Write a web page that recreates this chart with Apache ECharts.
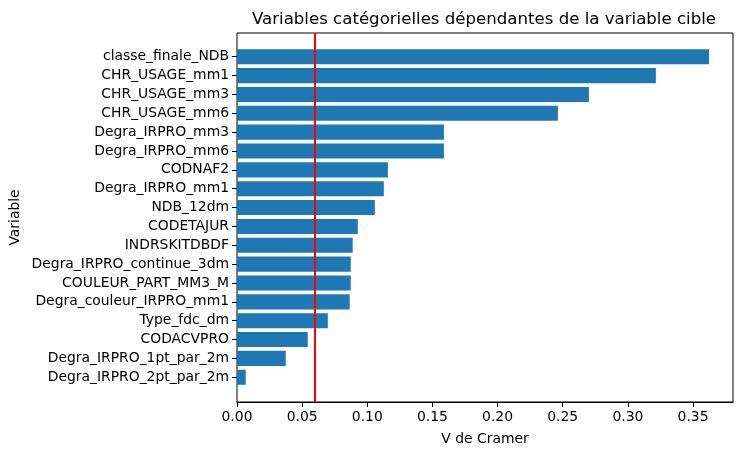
<!DOCTYPE html>
<html>
<head>
<meta charset="utf-8">
<script src="https://cdn.jsdelivr.net/npm/echarts@6/dist/echarts.min.js"></script>
<style>
  html, body { margin: 0; padding: 0; background: #fff; }
  #main { width: 742px; height: 455px; }
</style>
</head>
<body>
<div id="main"></div>
<script>
// top to bottom, as drawn
var variables = [
  'classe_finale_NDB', 'CHR_USAGE_mm1', 'CHR_USAGE_mm3', 'CHR_USAGE_mm6',
  'Degra_IRPRO_mm3', 'Degra_IRPRO_mm6', 'CODNAF2', 'Degra_IRPRO_mm1',
  'NDB_12dm', 'CODETAJUR', 'INDRSKITDBDF', 'Degra_IRPRO_continue_3dm',
  'COULEUR_PART_MM3_M', 'Degra_couleur_IRPRO_mm1', 'Type_fdc_dm', 'CODACVPRO',
  'Degra_IRPRO_1pt_par_2m', 'Degra_IRPRO_2pt_par_2m'
];
var cramerV = [
  0.3623, 0.3215, 0.2701, 0.2463,
  0.1588, 0.1588, 0.1158, 0.1127,
  0.1058, 0.0927, 0.0888, 0.0873,
  0.0873, 0.0865, 0.0697, 0.0543,
  0.0374, 0.0067
];
var seuil = 0.06;

var font = 'DejaVu Sans';
var xMax = 0.3807;

var chart = echarts.init(document.getElementById('main'));

var option = {
  backgroundColor: '#fff',
  animation: false,
  title: {
    text: 'Variables catégorielles dépendantes de la variable cible',
    left: 479,
    textAlign: 'center',
    top: 6,
    textStyle: { fontFamily: font, fontSize: 16.6, fontWeight: 'normal', color: '#000' }
  },
  grid: [
    // frame + x axis
    { left: 237, right: 9, top: 33, bottom: 53, show: true, borderColor: '#000', borderWidth: 1,
      backgroundColor: 'transparent', outerBoundsMode: 'none', containLabel: false },
    // bars
    { left: 237, right: 9, top: 47.3, bottom: 68.3, outerBoundsMode: 'none', containLabel: false }
  ],
  xAxis: [
    {
      gridIndex: 0, type: 'value', min: 0, max: xMax, interval: 0.05,
      name: 'V de Cramer', nameLocation: 'middle', nameGap: 30,
      nameTextStyle: { fontFamily: font, fontSize: 13.9, color: '#000' },
      axisLine: { show: true, lineStyle: { color: '#000', width: 1 } },
      axisTick: { show: true, length: 5, lineStyle: { color: '#000' } },
      axisLabel: {
        fontFamily: font, fontSize: 13.9, color: '#000', margin: 8,
        showMaxLabel: false,
        formatter: function (v) { return v.toFixed(2); }
      },
      splitLine: { show: false }
    },
    {
      gridIndex: 1, type: 'value', min: 0, max: xMax, show: false
    }
  ],
  yAxis: [
    {
      gridIndex: 0, type: 'value', min: 0, max: 1,
      name: 'Variable', nameLocation: 'middle', nameGap: 215, nameRotate: 90,
      nameTextStyle: { fontFamily: font, fontSize: 13.9, color: '#000' },
      axisLine: { show: false }, axisTick: { show: false },
      axisLabel: { show: false }, splitLine: { show: false }
    },
    {
      gridIndex: 1, type: 'category', data: variables, inverse: true,
      axisLine: { show: false },
      axisTick: { show: true, alignWithLabel: true, length: 5, lineStyle: { color: '#000' } },
      axisLabel: { fontFamily: font, fontSize: 13.9, color: '#000', margin: 8 }
    }
  ],
  series: [
    {
      type: 'bar', xAxisIndex: 1, yAxisIndex: 1,
      data: cramerV, barWidth: '80%',
      itemStyle: { color: '#1f77b4' }
    },
    {
      type: 'line', xAxisIndex: 0, yAxisIndex: 0, data: [],
      markLine: {
        silent: true, symbol: 'none', label: { show: false },
        lineStyle: { color: '#ff0000', type: 'solid', width: 2 },
        data: [{ xAxis: seuil }]
      }
    }
  ]
};

chart.setOption(option);
</script>
</body>
</html>
